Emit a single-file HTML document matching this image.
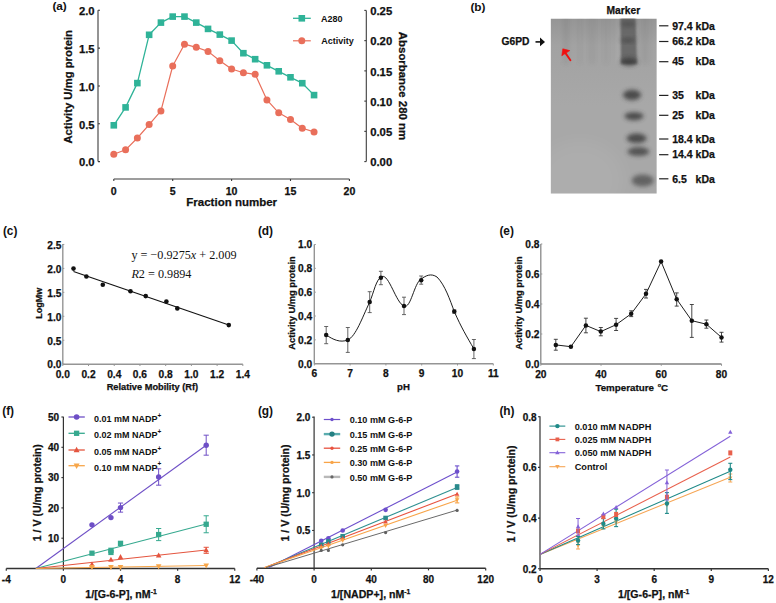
<!DOCTYPE html>
<html><head><meta charset="utf-8"><style>
html,body{margin:0;padding:0;background:#fff;width:776px;height:603px;overflow:hidden}
svg{display:block}
</style></head><body>
<svg width="776" height="603" viewBox="0 0 776 603">
<defs>
<linearGradient id="gelgrad" x1="0" y1="0" x2="0" y2="1">
<stop offset="0" stop-color="#959595"/><stop offset="0.15" stop-color="#a2a2a2"/><stop offset="0.5" stop-color="#a8a8a8"/><stop offset="1" stop-color="#a8a8a8"/>
</linearGradient>
<clipPath id="gelclip"><rect x="550.6" y="18.5" width="106.2" height="175.2"/></clipPath>
<filter id="blur2" x="-50%" y="-50%" width="200%" height="200%"><feGaussianBlur stdDeviation="2"/></filter>
<filter id="blur15" x="-50%" y="-50%" width="200%" height="200%"><feGaussianBlur stdDeviation="1.9"/></filter>
<filter id="blur8" x="-50%" y="-50%" width="200%" height="200%"><feGaussianBlur stdDeviation="8"/></filter>
<filter id="blur1" x="-50%" y="-50%" width="200%" height="200%"><feGaussianBlur stdDeviation="1.0"/></filter>
</defs>
<rect width="776" height="603" fill="#fff"/>
<text x="66.80" y="10.40" font-family="'Liberation Sans',sans-serif" font-weight="bold" font-size="11.8" text-anchor="end" fill="#111">(a)</text>
<line x1="98.00" y1="10.30" x2="98.00" y2="161.60" stroke="#3c3c3c" stroke-width="1.1"/>
<line x1="98.00" y1="161.60" x2="100.00" y2="161.60" stroke="#3c3c3c" stroke-width="1.1"/>
<text x="94.60" y="166.35" font-family="'Liberation Sans',sans-serif" font-weight="bold" font-size="11.3" text-anchor="end" fill="#111" stroke="#111" stroke-width="0.25">0.0</text>
<line x1="98.00" y1="123.77" x2="100.00" y2="123.77" stroke="#3c3c3c" stroke-width="1.1"/>
<text x="94.60" y="128.52" font-family="'Liberation Sans',sans-serif" font-weight="bold" font-size="11.3" text-anchor="end" fill="#111" stroke="#111" stroke-width="0.25">0.5</text>
<line x1="98.00" y1="85.95" x2="100.00" y2="85.95" stroke="#3c3c3c" stroke-width="1.1"/>
<text x="94.60" y="90.70" font-family="'Liberation Sans',sans-serif" font-weight="bold" font-size="11.3" text-anchor="end" fill="#111" stroke="#111" stroke-width="0.25">1.0</text>
<line x1="98.00" y1="48.12" x2="100.00" y2="48.12" stroke="#3c3c3c" stroke-width="1.1"/>
<text x="94.60" y="52.87" font-family="'Liberation Sans',sans-serif" font-weight="bold" font-size="11.3" text-anchor="end" fill="#111" stroke="#111" stroke-width="0.25">1.5</text>
<line x1="98.00" y1="10.30" x2="100.00" y2="10.30" stroke="#3c3c3c" stroke-width="1.1"/>
<text x="94.60" y="15.05" font-family="'Liberation Sans',sans-serif" font-weight="bold" font-size="11.3" text-anchor="end" fill="#111" stroke="#111" stroke-width="0.25">2.0</text>
<text x="72.30" y="86.80" font-family="'Liberation Sans',sans-serif" font-weight="bold" font-size="11.3" text-anchor="middle" fill="#111" stroke="#111" stroke-width="0.25" transform="rotate(-90 72.3 86.8)">Activity U/mg protein</text>
<line x1="113.80" y1="179.00" x2="349.40" y2="179.00" stroke="#3c3c3c" stroke-width="1.1"/>
<line x1="113.80" y1="179.00" x2="113.80" y2="181.00" stroke="#3c3c3c" stroke-width="1.1"/>
<text x="113.80" y="195.20" font-family="'Liberation Sans',sans-serif" font-weight="bold" font-size="10.6" text-anchor="middle" fill="#111" stroke="#111" stroke-width="0.25">0</text>
<line x1="172.70" y1="179.00" x2="172.70" y2="181.00" stroke="#3c3c3c" stroke-width="1.1"/>
<text x="172.70" y="195.20" font-family="'Liberation Sans',sans-serif" font-weight="bold" font-size="10.6" text-anchor="middle" fill="#111" stroke="#111" stroke-width="0.25">5</text>
<line x1="231.60" y1="179.00" x2="231.60" y2="181.00" stroke="#3c3c3c" stroke-width="1.1"/>
<text x="231.60" y="195.20" font-family="'Liberation Sans',sans-serif" font-weight="bold" font-size="10.6" text-anchor="middle" fill="#111" stroke="#111" stroke-width="0.25">10</text>
<line x1="290.50" y1="179.00" x2="290.50" y2="181.00" stroke="#3c3c3c" stroke-width="1.1"/>
<text x="290.50" y="195.20" font-family="'Liberation Sans',sans-serif" font-weight="bold" font-size="10.6" text-anchor="middle" fill="#111" stroke="#111" stroke-width="0.25">15</text>
<line x1="349.40" y1="179.00" x2="349.40" y2="181.00" stroke="#3c3c3c" stroke-width="1.1"/>
<text x="349.40" y="195.20" font-family="'Liberation Sans',sans-serif" font-weight="bold" font-size="10.6" text-anchor="middle" fill="#111" stroke="#111" stroke-width="0.25">20</text>
<text x="231.70" y="205.90" font-family="'Liberation Sans',sans-serif" font-weight="bold" font-size="11.5" text-anchor="middle" fill="#111" stroke="#111" stroke-width="0.25">Fraction number</text>
<line x1="366.30" y1="10.40" x2="366.30" y2="161.60" stroke="#3c3c3c" stroke-width="1.1"/>
<line x1="364.30" y1="161.60" x2="366.30" y2="161.60" stroke="#3c3c3c" stroke-width="1.1"/>
<text x="370.20" y="166.45" font-family="'Liberation Sans',sans-serif" font-weight="bold" font-size="11.3" text-anchor="start" fill="#111" stroke="#111" stroke-width="0.25">0.00</text>
<line x1="364.30" y1="131.36" x2="366.30" y2="131.36" stroke="#3c3c3c" stroke-width="1.1"/>
<text x="370.20" y="136.21" font-family="'Liberation Sans',sans-serif" font-weight="bold" font-size="11.3" text-anchor="start" fill="#111" stroke="#111" stroke-width="0.25">0.05</text>
<line x1="364.30" y1="101.12" x2="366.30" y2="101.12" stroke="#3c3c3c" stroke-width="1.1"/>
<text x="370.20" y="105.97" font-family="'Liberation Sans',sans-serif" font-weight="bold" font-size="11.3" text-anchor="start" fill="#111" stroke="#111" stroke-width="0.25">0.10</text>
<line x1="364.30" y1="70.88" x2="366.30" y2="70.88" stroke="#3c3c3c" stroke-width="1.1"/>
<text x="370.20" y="75.73" font-family="'Liberation Sans',sans-serif" font-weight="bold" font-size="11.3" text-anchor="start" fill="#111" stroke="#111" stroke-width="0.25">0.15</text>
<line x1="364.30" y1="40.64" x2="366.30" y2="40.64" stroke="#3c3c3c" stroke-width="1.1"/>
<text x="370.20" y="45.49" font-family="'Liberation Sans',sans-serif" font-weight="bold" font-size="11.3" text-anchor="start" fill="#111" stroke="#111" stroke-width="0.25">0.20</text>
<line x1="364.30" y1="10.40" x2="366.30" y2="10.40" stroke="#3c3c3c" stroke-width="1.1"/>
<text x="370.20" y="15.25" font-family="'Liberation Sans',sans-serif" font-weight="bold" font-size="11.3" text-anchor="start" fill="#111" stroke="#111" stroke-width="0.25">0.25</text>
<text x="399.40" y="86.00" font-family="'Liberation Sans',sans-serif" font-weight="bold" font-size="11.4" text-anchor="middle" fill="#111" stroke="#111" stroke-width="0.25" transform="rotate(90 399.4 86.0)">Absorbance 280 nm</text>
<polyline points="113.80,125.30 125.58,107.40 137.36,83.10 149.14,34.80 160.92,22.60 172.70,16.60 184.48,16.60 196.26,22.60 208.04,28.90 219.82,34.60 231.60,40.60 243.38,53.20 255.16,59.20 266.94,65.30 278.72,71.30 290.50,77.30 302.28,83.20 314.06,95.10" fill="none" stroke="#2fb398" stroke-width="1.3" stroke-linejoin="round"/>
<polyline points="113.80,154.20 125.58,149.80 137.36,138.00 149.14,124.60 160.92,110.90 172.70,66.00 184.48,44.20 196.26,47.30 208.04,51.40 219.82,60.80 231.60,69.00 243.38,72.70 255.16,74.30 266.94,99.90 278.72,112.80 290.50,119.40 302.28,128.30 314.06,131.90" fill="none" stroke="#e96f5b" stroke-width="1.2" stroke-linejoin="round"/>
<rect x="110.50" y="122.00" width="6.6" height="6.6" fill="#2fb398"/>
<rect x="122.28" y="104.10" width="6.6" height="6.6" fill="#2fb398"/>
<rect x="134.06" y="79.80" width="6.6" height="6.6" fill="#2fb398"/>
<rect x="145.84" y="31.50" width="6.6" height="6.6" fill="#2fb398"/>
<rect x="157.62" y="19.30" width="6.6" height="6.6" fill="#2fb398"/>
<rect x="169.40" y="13.30" width="6.6" height="6.6" fill="#2fb398"/>
<rect x="181.18" y="13.30" width="6.6" height="6.6" fill="#2fb398"/>
<rect x="192.96" y="19.30" width="6.6" height="6.6" fill="#2fb398"/>
<rect x="204.74" y="25.60" width="6.6" height="6.6" fill="#2fb398"/>
<rect x="216.52" y="31.30" width="6.6" height="6.6" fill="#2fb398"/>
<rect x="228.30" y="37.30" width="6.6" height="6.6" fill="#2fb398"/>
<rect x="240.08" y="49.90" width="6.6" height="6.6" fill="#2fb398"/>
<rect x="251.86" y="55.90" width="6.6" height="6.6" fill="#2fb398"/>
<rect x="263.64" y="62.00" width="6.6" height="6.6" fill="#2fb398"/>
<rect x="275.42" y="68.00" width="6.6" height="6.6" fill="#2fb398"/>
<rect x="287.20" y="74.00" width="6.6" height="6.6" fill="#2fb398"/>
<rect x="298.98" y="79.90" width="6.6" height="6.6" fill="#2fb398"/>
<rect x="310.76" y="91.80" width="6.6" height="6.6" fill="#2fb398"/>
<circle cx="113.80" cy="154.20" r="3.5" fill="#e96f5b"/>
<circle cx="125.58" cy="149.80" r="3.5" fill="#e96f5b"/>
<circle cx="137.36" cy="138.00" r="3.5" fill="#e96f5b"/>
<circle cx="149.14" cy="124.60" r="3.5" fill="#e96f5b"/>
<circle cx="160.92" cy="110.90" r="3.5" fill="#e96f5b"/>
<circle cx="172.70" cy="66.00" r="3.5" fill="#e96f5b"/>
<circle cx="184.48" cy="44.20" r="3.5" fill="#e96f5b"/>
<circle cx="196.26" cy="47.30" r="3.5" fill="#e96f5b"/>
<circle cx="208.04" cy="51.40" r="3.5" fill="#e96f5b"/>
<circle cx="219.82" cy="60.80" r="3.5" fill="#e96f5b"/>
<circle cx="231.60" cy="69.00" r="3.5" fill="#e96f5b"/>
<circle cx="243.38" cy="72.70" r="3.5" fill="#e96f5b"/>
<circle cx="255.16" cy="74.30" r="3.5" fill="#e96f5b"/>
<circle cx="266.94" cy="99.90" r="3.5" fill="#e96f5b"/>
<circle cx="278.72" cy="112.80" r="3.5" fill="#e96f5b"/>
<circle cx="290.50" cy="119.40" r="3.5" fill="#e96f5b"/>
<circle cx="302.28" cy="128.30" r="3.5" fill="#e96f5b"/>
<circle cx="314.06" cy="131.90" r="3.5" fill="#e96f5b"/>
<line x1="293.00" y1="18.30" x2="310.80" y2="18.30" stroke="#2fb398" stroke-width="1.3"/>
<rect x="298.50" y="15.00" width="6.6" height="6.6" fill="#2fb398"/>
<text x="321.10" y="21.70" font-family="'Liberation Sans',sans-serif" font-weight="bold" font-size="9" text-anchor="start" fill="#111">A280</text>
<line x1="293.00" y1="40.80" x2="310.80" y2="40.80" stroke="#e96f5b" stroke-width="1.2"/>
<circle cx="301.80" cy="40.80" r="3.5" fill="#e96f5b"/>
<text x="321.20" y="44.20" font-family="'Liberation Sans',sans-serif" font-weight="bold" font-size="9" text-anchor="start" fill="#111">Activity</text>
<text x="470.40" y="10.60" font-family="'Liberation Sans',sans-serif" font-weight="bold" font-size="11.8" text-anchor="start" fill="#111">(b)</text>
<text x="623.40" y="14.10" font-family="'Liberation Sans',sans-serif" font-weight="bold" font-size="10.25" text-anchor="middle" fill="#111" stroke="#111" stroke-width="0.25">Marker</text>
<text x="501.60" y="45.20" font-family="'Liberation Sans',sans-serif" font-weight="bold" font-size="10.25" text-anchor="start" fill="#111" stroke="#111" stroke-width="0.25">G6PD</text>
<path d="M535.5 41.9 H541" stroke="#111" stroke-width="1.6"/><polygon points="545,41.9 540,37.6 540,46.2" fill="#111"/>
<g clip-path="url(#gelclip)">
<rect x="550.6" y="18.5" width="106.2" height="175.2" fill="url(#gelgrad)"/>
<rect x="563.0" y="14" width="6" height="50" fill="#5a5a5a" opacity="0.1" filter="url(#blur2)"/>
<rect x="578.0" y="14" width="4" height="50" fill="#5a5a5a" opacity="0.05" filter="url(#blur2)"/>
<rect x="589.0" y="14" width="6" height="50" fill="#5a5a5a" opacity="0.07" filter="url(#blur2)"/>
<rect x="603.5" y="14" width="5" height="50" fill="#5a5a5a" opacity="0.05" filter="url(#blur2)"/>
<rect x="641.0" y="14" width="8" height="50" fill="#5a5a5a" opacity="0.08" filter="url(#blur2)"/>
<rect x="617" y="14" width="3" height="50" fill="#ffffff" opacity="0.10" filter="url(#blur15)"/>
<path d="M620.5 14 L635.5 14 L637 64 L621 64 Z" fill="#555555" opacity="0.72" filter="url(#blur1)"/>
<ellipse cx="628" cy="24" rx="7.5" ry="3.0" fill="#353535" opacity="0.35" filter="url(#blur15)"/>
<ellipse cx="628" cy="40.3" rx="7.5" ry="2.25" fill="#353535" opacity="0.5" filter="url(#blur15)"/>
<ellipse cx="629" cy="61.7" rx="8.5" ry="4.0" fill="#353535" opacity="0.75" filter="url(#blur15)"/>
<ellipse cx="632" cy="94.9" rx="9.0" ry="5.25" fill="#353535" opacity="0.8" filter="url(#blur15)"/>
<ellipse cx="634" cy="116.2" rx="9.5" ry="4.0" fill="#353535" opacity="0.8" filter="url(#blur15)"/>
<ellipse cx="636.6" cy="138.3" rx="10.0" ry="4.75" fill="#353535" opacity="0.8" filter="url(#blur15)"/>
<ellipse cx="638.4" cy="151.6" rx="11.0" ry="4.5" fill="#353535" opacity="0.72" filter="url(#blur15)"/>
<ellipse cx="642.7" cy="180.5" rx="11.0" ry="6.0" fill="#353535" opacity="0.6" filter="url(#blur15)"/>
<ellipse cx="580" cy="180" rx="45" ry="40" fill="#ffffff" opacity="0.06" filter="url(#blur8)"/>
</g>
<path d="M570.4 60.2 L565.2 52.6" stroke="#f01010" stroke-width="1.9" stroke-linecap="round"/><polygon points="562.8,48.8 569.8,50.6 561.8,55.8" fill="#f01010" stroke="#f01010" stroke-width="0.6" stroke-linejoin="round"/>
<line x1="659.10" y1="25.80" x2="668.40" y2="25.80" stroke="#222" stroke-width="1.2"/>
<text x="672.20" y="29.56" font-family="'Liberation Sans',sans-serif" font-weight="bold" font-size="10.5" text-anchor="start" fill="#111" stroke="#111" stroke-width="0.25">97.4</text>
<text x="695.60" y="29.56" font-family="'Liberation Sans',sans-serif" font-weight="bold" font-size="10.5" text-anchor="start" fill="#111" stroke="#111" stroke-width="0.25">kDa</text>
<line x1="659.10" y1="41.50" x2="668.40" y2="41.50" stroke="#222" stroke-width="1.2"/>
<text x="672.20" y="45.26" font-family="'Liberation Sans',sans-serif" font-weight="bold" font-size="10.5" text-anchor="start" fill="#111" stroke="#111" stroke-width="0.25">66.2</text>
<text x="695.60" y="45.26" font-family="'Liberation Sans',sans-serif" font-weight="bold" font-size="10.5" text-anchor="start" fill="#111" stroke="#111" stroke-width="0.25">kDa</text>
<line x1="659.10" y1="61.70" x2="668.40" y2="61.70" stroke="#222" stroke-width="1.2"/>
<text x="672.20" y="65.46" font-family="'Liberation Sans',sans-serif" font-weight="bold" font-size="10.5" text-anchor="start" fill="#111" stroke="#111" stroke-width="0.25">45</text>
<text x="695.60" y="65.46" font-family="'Liberation Sans',sans-serif" font-weight="bold" font-size="10.5" text-anchor="start" fill="#111" stroke="#111" stroke-width="0.25">kDa</text>
<line x1="659.10" y1="95.40" x2="668.40" y2="95.40" stroke="#222" stroke-width="1.2"/>
<text x="672.20" y="99.16" font-family="'Liberation Sans',sans-serif" font-weight="bold" font-size="10.5" text-anchor="start" fill="#111" stroke="#111" stroke-width="0.25">35</text>
<text x="695.60" y="99.16" font-family="'Liberation Sans',sans-serif" font-weight="bold" font-size="10.5" text-anchor="start" fill="#111" stroke="#111" stroke-width="0.25">kDa</text>
<line x1="659.10" y1="115.30" x2="668.40" y2="115.30" stroke="#222" stroke-width="1.2"/>
<text x="672.20" y="119.06" font-family="'Liberation Sans',sans-serif" font-weight="bold" font-size="10.5" text-anchor="start" fill="#111" stroke="#111" stroke-width="0.25">25</text>
<text x="695.60" y="119.06" font-family="'Liberation Sans',sans-serif" font-weight="bold" font-size="10.5" text-anchor="start" fill="#111" stroke="#111" stroke-width="0.25">kDa</text>
<line x1="659.10" y1="139.00" x2="668.40" y2="139.00" stroke="#222" stroke-width="1.2"/>
<text x="672.20" y="142.76" font-family="'Liberation Sans',sans-serif" font-weight="bold" font-size="10.5" text-anchor="start" fill="#111" stroke="#111" stroke-width="0.25">18.4</text>
<text x="695.60" y="142.76" font-family="'Liberation Sans',sans-serif" font-weight="bold" font-size="10.5" text-anchor="start" fill="#111" stroke="#111" stroke-width="0.25">kDa</text>
<line x1="659.10" y1="154.70" x2="668.40" y2="154.70" stroke="#222" stroke-width="1.2"/>
<text x="672.20" y="158.46" font-family="'Liberation Sans',sans-serif" font-weight="bold" font-size="10.5" text-anchor="start" fill="#111" stroke="#111" stroke-width="0.25">14.4</text>
<text x="695.60" y="158.46" font-family="'Liberation Sans',sans-serif" font-weight="bold" font-size="10.5" text-anchor="start" fill="#111" stroke="#111" stroke-width="0.25">kDa</text>
<line x1="659.10" y1="178.80" x2="668.40" y2="178.80" stroke="#222" stroke-width="1.2"/>
<text x="672.20" y="182.56" font-family="'Liberation Sans',sans-serif" font-weight="bold" font-size="10.5" text-anchor="start" fill="#111" stroke="#111" stroke-width="0.25">6.5</text>
<text x="695.60" y="182.56" font-family="'Liberation Sans',sans-serif" font-weight="bold" font-size="10.5" text-anchor="start" fill="#111" stroke="#111" stroke-width="0.25">kDa</text>
<text x="2.90" y="235.30" font-family="'Liberation Sans',sans-serif" font-weight="bold" font-size="11.9" text-anchor="start" fill="#111">(c)</text>
<line x1="62.80" y1="244.10" x2="62.80" y2="364.20" stroke="#959595" stroke-width="1.4"/>
<line x1="62.80" y1="364.20" x2="242.84" y2="364.20" stroke="#959595" stroke-width="1.4"/>
<line x1="62.80" y1="364.20" x2="64.30" y2="364.20" stroke="#959595" stroke-width="1"/>
<text x="61.50" y="368.45" font-family="'Liberation Sans',sans-serif" font-weight="bold" font-size="10.2" text-anchor="end" fill="#111" stroke="#111" stroke-width="0.25">0.0</text>
<line x1="62.80" y1="340.25" x2="64.30" y2="340.25" stroke="#959595" stroke-width="1"/>
<text x="61.50" y="344.50" font-family="'Liberation Sans',sans-serif" font-weight="bold" font-size="10.2" text-anchor="end" fill="#111" stroke="#111" stroke-width="0.25">0.5</text>
<line x1="62.80" y1="316.30" x2="64.30" y2="316.30" stroke="#959595" stroke-width="1"/>
<text x="61.50" y="320.55" font-family="'Liberation Sans',sans-serif" font-weight="bold" font-size="10.2" text-anchor="end" fill="#111" stroke="#111" stroke-width="0.25">1.0</text>
<line x1="62.80" y1="292.35" x2="64.30" y2="292.35" stroke="#959595" stroke-width="1"/>
<text x="61.50" y="296.60" font-family="'Liberation Sans',sans-serif" font-weight="bold" font-size="10.2" text-anchor="end" fill="#111" stroke="#111" stroke-width="0.25">1.5</text>
<line x1="62.80" y1="268.40" x2="64.30" y2="268.40" stroke="#959595" stroke-width="1"/>
<text x="61.50" y="272.65" font-family="'Liberation Sans',sans-serif" font-weight="bold" font-size="10.2" text-anchor="end" fill="#111" stroke="#111" stroke-width="0.25">2.0</text>
<line x1="62.80" y1="244.45" x2="64.30" y2="244.45" stroke="#959595" stroke-width="1"/>
<text x="61.50" y="248.70" font-family="'Liberation Sans',sans-serif" font-weight="bold" font-size="10.2" text-anchor="end" fill="#111" stroke="#111" stroke-width="0.25">2.5</text>
<line x1="62.80" y1="364.20" x2="62.80" y2="366.00" stroke="#959595" stroke-width="1"/>
<text x="62.80" y="377.60" font-family="'Liberation Sans',sans-serif" font-weight="bold" font-size="10.2" text-anchor="middle" fill="#111" stroke="#111" stroke-width="0.25">0.0</text>
<line x1="88.52" y1="364.20" x2="88.52" y2="366.00" stroke="#959595" stroke-width="1"/>
<text x="88.52" y="377.60" font-family="'Liberation Sans',sans-serif" font-weight="bold" font-size="10.2" text-anchor="middle" fill="#111" stroke="#111" stroke-width="0.25">0.2</text>
<line x1="114.24" y1="364.20" x2="114.24" y2="366.00" stroke="#959595" stroke-width="1"/>
<text x="114.24" y="377.60" font-family="'Liberation Sans',sans-serif" font-weight="bold" font-size="10.2" text-anchor="middle" fill="#111" stroke="#111" stroke-width="0.25">0.4</text>
<line x1="139.96" y1="364.20" x2="139.96" y2="366.00" stroke="#959595" stroke-width="1"/>
<text x="139.96" y="377.60" font-family="'Liberation Sans',sans-serif" font-weight="bold" font-size="10.2" text-anchor="middle" fill="#111" stroke="#111" stroke-width="0.25">0.6</text>
<line x1="165.68" y1="364.20" x2="165.68" y2="366.00" stroke="#959595" stroke-width="1"/>
<text x="165.68" y="377.60" font-family="'Liberation Sans',sans-serif" font-weight="bold" font-size="10.2" text-anchor="middle" fill="#111" stroke="#111" stroke-width="0.25">0.8</text>
<line x1="191.40" y1="364.20" x2="191.40" y2="366.00" stroke="#959595" stroke-width="1"/>
<text x="191.40" y="377.60" font-family="'Liberation Sans',sans-serif" font-weight="bold" font-size="10.2" text-anchor="middle" fill="#111" stroke="#111" stroke-width="0.25">1.0</text>
<line x1="217.12" y1="364.20" x2="217.12" y2="366.00" stroke="#959595" stroke-width="1"/>
<text x="217.12" y="377.60" font-family="'Liberation Sans',sans-serif" font-weight="bold" font-size="10.2" text-anchor="middle" fill="#111" stroke="#111" stroke-width="0.25">1.2</text>
<line x1="242.84" y1="364.20" x2="242.84" y2="366.00" stroke="#959595" stroke-width="1"/>
<text x="242.84" y="377.60" font-family="'Liberation Sans',sans-serif" font-weight="bold" font-size="10.2" text-anchor="middle" fill="#111" stroke="#111" stroke-width="0.25">1.4</text>
<text x="42.30" y="303.20" font-family="'Liberation Sans',sans-serif" font-weight="bold" font-size="9" text-anchor="middle" fill="#111" stroke="#111" stroke-width="0.25" transform="rotate(-90 42.3 303.2)">LogMw</text>
<text x="152.40" y="389.90" font-family="'Liberation Sans',sans-serif" font-weight="bold" font-size="9.25" text-anchor="middle" fill="#111" stroke="#111" stroke-width="0.25">Relative Mobility (Rf)</text>
<line x1="73.50" y1="271.60" x2="228.80" y2="325.10" stroke="#111" stroke-width="1.1"/>
<circle cx="73.50" cy="268.60" r="2.3" fill="#111"/>
<circle cx="86.40" cy="276.50" r="2.3" fill="#111"/>
<circle cx="102.80" cy="284.70" r="2.3" fill="#111"/>
<circle cx="130.50" cy="291.20" r="2.3" fill="#111"/>
<circle cx="145.70" cy="296.10" r="2.3" fill="#111"/>
<circle cx="166.40" cy="301.60" r="2.3" fill="#111"/>
<circle cx="177.30" cy="308.40" r="2.3" fill="#111"/>
<circle cx="228.80" cy="325.10" r="2.3" fill="#111"/>
<text x="131.40" y="258.80" font-family="'Liberation Serif',serif" font-weight="normal" font-size="12.2" text-anchor="start" fill="#111">y = −0.9275<tspan font-style="italic">x</tspan> + 2.009</text>
<text x="131.40" y="277.70" font-family="'Liberation Serif',serif" font-weight="normal" font-size="12.2" text-anchor="start" fill="#111"><tspan font-style="italic">R</tspan>2 = 0.9894</text>
<text x="257.90" y="235.30" font-family="'Liberation Sans',sans-serif" font-weight="bold" font-size="11.9" text-anchor="start" fill="#111">(d)</text>
<line x1="314.30" y1="244.50" x2="314.30" y2="363.70" stroke="#959595" stroke-width="1.4"/>
<line x1="314.30" y1="363.70" x2="493.30" y2="363.70" stroke="#959595" stroke-width="1.4"/>
<line x1="314.30" y1="363.70" x2="315.80" y2="363.70" stroke="#959595" stroke-width="1"/>
<text x="312.20" y="367.55" font-family="'Liberation Sans',sans-serif" font-weight="bold" font-size="10.2" text-anchor="end" fill="#111" stroke="#111" stroke-width="0.25">0.0</text>
<line x1="314.30" y1="339.86" x2="315.80" y2="339.86" stroke="#959595" stroke-width="1"/>
<text x="312.20" y="343.71" font-family="'Liberation Sans',sans-serif" font-weight="bold" font-size="10.2" text-anchor="end" fill="#111" stroke="#111" stroke-width="0.25">0.2</text>
<line x1="314.30" y1="316.02" x2="315.80" y2="316.02" stroke="#959595" stroke-width="1"/>
<text x="312.20" y="319.87" font-family="'Liberation Sans',sans-serif" font-weight="bold" font-size="10.2" text-anchor="end" fill="#111" stroke="#111" stroke-width="0.25">0.4</text>
<line x1="314.30" y1="292.18" x2="315.80" y2="292.18" stroke="#959595" stroke-width="1"/>
<text x="312.20" y="296.03" font-family="'Liberation Sans',sans-serif" font-weight="bold" font-size="10.2" text-anchor="end" fill="#111" stroke="#111" stroke-width="0.25">0.6</text>
<line x1="314.30" y1="268.34" x2="315.80" y2="268.34" stroke="#959595" stroke-width="1"/>
<text x="312.20" y="272.19" font-family="'Liberation Sans',sans-serif" font-weight="bold" font-size="10.2" text-anchor="end" fill="#111" stroke="#111" stroke-width="0.25">0.8</text>
<line x1="314.30" y1="244.50" x2="315.80" y2="244.50" stroke="#959595" stroke-width="1"/>
<text x="312.20" y="248.35" font-family="'Liberation Sans',sans-serif" font-weight="bold" font-size="10.2" text-anchor="end" fill="#111" stroke="#111" stroke-width="0.25">1.0</text>
<line x1="314.30" y1="363.70" x2="314.30" y2="365.50" stroke="#959595" stroke-width="1"/>
<text x="314.30" y="377.40" font-family="'Liberation Sans',sans-serif" font-weight="bold" font-size="10.2" text-anchor="middle" fill="#111" stroke="#111" stroke-width="0.25">6</text>
<line x1="350.10" y1="363.70" x2="350.10" y2="365.50" stroke="#959595" stroke-width="1"/>
<text x="350.10" y="377.40" font-family="'Liberation Sans',sans-serif" font-weight="bold" font-size="10.2" text-anchor="middle" fill="#111" stroke="#111" stroke-width="0.25">7</text>
<line x1="385.90" y1="363.70" x2="385.90" y2="365.50" stroke="#959595" stroke-width="1"/>
<text x="385.90" y="377.40" font-family="'Liberation Sans',sans-serif" font-weight="bold" font-size="10.2" text-anchor="middle" fill="#111" stroke="#111" stroke-width="0.25">8</text>
<line x1="421.70" y1="363.70" x2="421.70" y2="365.50" stroke="#959595" stroke-width="1"/>
<text x="421.70" y="377.40" font-family="'Liberation Sans',sans-serif" font-weight="bold" font-size="10.2" text-anchor="middle" fill="#111" stroke="#111" stroke-width="0.25">9</text>
<line x1="457.50" y1="363.70" x2="457.50" y2="365.50" stroke="#959595" stroke-width="1"/>
<text x="457.50" y="377.40" font-family="'Liberation Sans',sans-serif" font-weight="bold" font-size="10.2" text-anchor="middle" fill="#111" stroke="#111" stroke-width="0.25">10</text>
<line x1="493.30" y1="363.70" x2="493.30" y2="365.50" stroke="#959595" stroke-width="1"/>
<text x="493.30" y="377.40" font-family="'Liberation Sans',sans-serif" font-weight="bold" font-size="10.2" text-anchor="middle" fill="#111" stroke="#111" stroke-width="0.25">11</text>
<text x="295.00" y="303.00" font-family="'Liberation Sans',sans-serif" font-weight="bold" font-size="9.3" text-anchor="middle" fill="#111" stroke="#111" stroke-width="0.25" transform="rotate(-90 295.0 303.0)">Activity U/mg protein</text>
<text x="403.50" y="390.20" font-family="'Liberation Sans',sans-serif" font-weight="bold" font-size="9.6" text-anchor="middle" fill="#111" stroke="#111" stroke-width="0.25">pH</text>
<path d="M326.2 335 C 333 339.5, 340 343, 347.8 340 C 356 336, 362 318, 369.7 302.1 C 374 292, 376 279, 382 276.5 C 389 274, 396 303, 404 306.1 C 411 309, 414 283, 421.2 279 C 426 275.5, 431 273, 437 277 C 445 285, 450 300, 454.3 311.6 C 461 327, 467 337, 473.9 348.9" fill="none" stroke="#111" stroke-width="0.95"/>
<line x1="326.20" y1="326.50" x2="326.20" y2="343.70" stroke="#555" stroke-width="0.9"/>
<line x1="324.20" y1="326.50" x2="328.20" y2="326.50" stroke="#555" stroke-width="0.9"/>
<line x1="324.20" y1="343.70" x2="328.20" y2="343.70" stroke="#555" stroke-width="0.9"/>
<circle cx="326.20" cy="335.00" r="2.25" fill="#111"/>
<line x1="347.80" y1="327.50" x2="347.80" y2="352.40" stroke="#555" stroke-width="0.9"/>
<line x1="345.80" y1="327.50" x2="349.80" y2="327.50" stroke="#555" stroke-width="0.9"/>
<line x1="345.80" y1="352.40" x2="349.80" y2="352.40" stroke="#555" stroke-width="0.9"/>
<circle cx="347.80" cy="340.00" r="2.25" fill="#111"/>
<line x1="369.70" y1="291.70" x2="369.70" y2="312.60" stroke="#555" stroke-width="0.9"/>
<line x1="367.70" y1="291.70" x2="371.70" y2="291.70" stroke="#555" stroke-width="0.9"/>
<line x1="367.70" y1="312.60" x2="371.70" y2="312.60" stroke="#555" stroke-width="0.9"/>
<circle cx="369.70" cy="302.10" r="2.25" fill="#111"/>
<line x1="380.90" y1="271.30" x2="380.90" y2="284.70" stroke="#555" stroke-width="0.9"/>
<line x1="378.90" y1="271.30" x2="382.90" y2="271.30" stroke="#555" stroke-width="0.9"/>
<line x1="378.90" y1="284.70" x2="382.90" y2="284.70" stroke="#555" stroke-width="0.9"/>
<circle cx="380.90" cy="277.80" r="2.25" fill="#111"/>
<line x1="404.00" y1="297.20" x2="404.00" y2="314.60" stroke="#555" stroke-width="0.9"/>
<line x1="402.00" y1="297.20" x2="406.00" y2="297.20" stroke="#555" stroke-width="0.9"/>
<line x1="402.00" y1="314.60" x2="406.00" y2="314.60" stroke="#555" stroke-width="0.9"/>
<circle cx="404.00" cy="306.10" r="2.25" fill="#111"/>
<line x1="421.20" y1="276.00" x2="421.20" y2="284.20" stroke="#555" stroke-width="0.9"/>
<line x1="419.20" y1="276.00" x2="423.20" y2="276.00" stroke="#555" stroke-width="0.9"/>
<line x1="419.20" y1="284.20" x2="423.20" y2="284.20" stroke="#555" stroke-width="0.9"/>
<circle cx="421.20" cy="280.20" r="2.25" fill="#111"/>
<line x1="454.30" y1="310.00" x2="454.30" y2="313.20" stroke="#555" stroke-width="0.9"/>
<line x1="452.30" y1="310.00" x2="456.30" y2="310.00" stroke="#555" stroke-width="0.9"/>
<line x1="452.30" y1="313.20" x2="456.30" y2="313.20" stroke="#555" stroke-width="0.9"/>
<circle cx="454.30" cy="311.60" r="2.25" fill="#111"/>
<line x1="473.90" y1="339.50" x2="473.90" y2="358.60" stroke="#555" stroke-width="0.9"/>
<line x1="471.90" y1="339.50" x2="475.90" y2="339.50" stroke="#555" stroke-width="0.9"/>
<line x1="471.90" y1="358.60" x2="475.90" y2="358.60" stroke="#555" stroke-width="0.9"/>
<circle cx="473.90" cy="348.90" r="2.25" fill="#111"/>
<text x="499.40" y="235.30" font-family="'Liberation Sans',sans-serif" font-weight="bold" font-size="11.9" text-anchor="start" fill="#111">(e)</text>
<line x1="540.80" y1="244.00" x2="540.80" y2="364.00" stroke="#888" stroke-width="1.3"/>
<line x1="540.80" y1="364.00" x2="721.52" y2="364.00" stroke="#808080" stroke-width="1.3"/>
<line x1="540.80" y1="364.00" x2="542.30" y2="364.00" stroke="#959595" stroke-width="1"/>
<text x="539.40" y="367.85" font-family="'Liberation Sans',sans-serif" font-weight="bold" font-size="10.2" text-anchor="end" fill="#111" stroke="#111" stroke-width="0.25">0.0</text>
<line x1="540.80" y1="334.00" x2="542.30" y2="334.00" stroke="#959595" stroke-width="1"/>
<text x="539.40" y="337.85" font-family="'Liberation Sans',sans-serif" font-weight="bold" font-size="10.2" text-anchor="end" fill="#111" stroke="#111" stroke-width="0.25">0.2</text>
<line x1="540.80" y1="304.00" x2="542.30" y2="304.00" stroke="#959595" stroke-width="1"/>
<text x="539.40" y="307.85" font-family="'Liberation Sans',sans-serif" font-weight="bold" font-size="10.2" text-anchor="end" fill="#111" stroke="#111" stroke-width="0.25">0.4</text>
<line x1="540.80" y1="274.00" x2="542.30" y2="274.00" stroke="#959595" stroke-width="1"/>
<text x="539.40" y="277.85" font-family="'Liberation Sans',sans-serif" font-weight="bold" font-size="10.2" text-anchor="end" fill="#111" stroke="#111" stroke-width="0.25">0.6</text>
<line x1="540.80" y1="244.00" x2="542.30" y2="244.00" stroke="#959595" stroke-width="1"/>
<text x="539.40" y="247.85" font-family="'Liberation Sans',sans-serif" font-weight="bold" font-size="10.2" text-anchor="end" fill="#111" stroke="#111" stroke-width="0.25">0.8</text>
<line x1="540.80" y1="364.00" x2="540.80" y2="365.80" stroke="#959595" stroke-width="1"/>
<text x="540.80" y="377.60" font-family="'Liberation Sans',sans-serif" font-weight="bold" font-size="10.2" text-anchor="middle" fill="#111" stroke="#111" stroke-width="0.25">20</text>
<line x1="601.04" y1="364.00" x2="601.04" y2="365.80" stroke="#959595" stroke-width="1"/>
<text x="601.04" y="377.60" font-family="'Liberation Sans',sans-serif" font-weight="bold" font-size="10.2" text-anchor="middle" fill="#111" stroke="#111" stroke-width="0.25">40</text>
<line x1="661.28" y1="364.00" x2="661.28" y2="365.80" stroke="#959595" stroke-width="1"/>
<text x="661.28" y="377.60" font-family="'Liberation Sans',sans-serif" font-weight="bold" font-size="10.2" text-anchor="middle" fill="#111" stroke="#111" stroke-width="0.25">60</text>
<line x1="721.52" y1="364.00" x2="721.52" y2="365.80" stroke="#959595" stroke-width="1"/>
<text x="721.52" y="377.60" font-family="'Liberation Sans',sans-serif" font-weight="bold" font-size="10.2" text-anchor="middle" fill="#111" stroke="#111" stroke-width="0.25">80</text>
<text x="521.50" y="303.00" font-family="'Liberation Sans',sans-serif" font-weight="bold" font-size="9.3" text-anchor="middle" fill="#111" stroke="#111" stroke-width="0.25" transform="rotate(-90 521.5 303.0)">Activity U/mg protein</text>
<text x="595.40" y="391.30" font-family="'Liberation Sans',sans-serif" font-weight="bold" font-size="9.8" text-anchor="start" fill="#111" stroke="#111" stroke-width="0.25">Temperature</text>
<text x="657.80" y="387.00" font-family="'Liberation Sans',sans-serif" font-weight="bold" font-size="5.5" text-anchor="start" fill="#111" stroke="#111" stroke-width="0.25">o</text>
<text x="661.00" y="391.30" font-family="'Liberation Sans',sans-serif" font-weight="bold" font-size="9.8" text-anchor="start" fill="#111" stroke="#111" stroke-width="0.25">C</text>
<polyline points="555.80,344.90 570.90,346.70 585.90,325.40 600.80,331.60 616.10,324.70 631.20,313.80 646.00,293.80 661.10,261.60 676.70,299.20 691.80,320.70 706.40,324.20 721.50,337.40" fill="none" stroke="#111" stroke-width="0.95" stroke-linejoin="round"/>
<line x1="555.80" y1="339.30" x2="555.80" y2="350.20" stroke="#333" stroke-width="0.9"/>
<line x1="553.80" y1="339.30" x2="557.80" y2="339.30" stroke="#333" stroke-width="0.9"/>
<line x1="553.80" y1="350.20" x2="557.80" y2="350.20" stroke="#333" stroke-width="0.9"/>
<circle cx="555.80" cy="344.90" r="2.25" fill="#111"/>
<circle cx="570.90" cy="346.70" r="2.25" fill="#111"/>
<line x1="585.90" y1="318.20" x2="585.90" y2="332.80" stroke="#333" stroke-width="0.9"/>
<line x1="583.90" y1="318.20" x2="587.90" y2="318.20" stroke="#333" stroke-width="0.9"/>
<line x1="583.90" y1="332.80" x2="587.90" y2="332.80" stroke="#333" stroke-width="0.9"/>
<circle cx="585.90" cy="325.40" r="2.25" fill="#111"/>
<line x1="600.80" y1="327.50" x2="600.80" y2="335.80" stroke="#333" stroke-width="0.9"/>
<line x1="598.80" y1="327.50" x2="602.80" y2="327.50" stroke="#333" stroke-width="0.9"/>
<line x1="598.80" y1="335.80" x2="602.80" y2="335.80" stroke="#333" stroke-width="0.9"/>
<circle cx="600.80" cy="331.60" r="2.25" fill="#111"/>
<line x1="616.10" y1="318.40" x2="616.10" y2="330.50" stroke="#333" stroke-width="0.9"/>
<line x1="614.10" y1="318.40" x2="618.10" y2="318.40" stroke="#333" stroke-width="0.9"/>
<line x1="614.10" y1="330.50" x2="618.10" y2="330.50" stroke="#333" stroke-width="0.9"/>
<circle cx="616.10" cy="324.70" r="2.25" fill="#111"/>
<line x1="631.20" y1="310.80" x2="631.20" y2="316.60" stroke="#333" stroke-width="0.9"/>
<line x1="629.20" y1="310.80" x2="633.20" y2="310.80" stroke="#333" stroke-width="0.9"/>
<line x1="629.20" y1="316.60" x2="633.20" y2="316.60" stroke="#333" stroke-width="0.9"/>
<circle cx="631.20" cy="313.80" r="2.25" fill="#111"/>
<line x1="646.00" y1="289.40" x2="646.00" y2="298.00" stroke="#333" stroke-width="0.9"/>
<line x1="644.00" y1="289.40" x2="648.00" y2="289.40" stroke="#333" stroke-width="0.9"/>
<line x1="644.00" y1="298.00" x2="648.00" y2="298.00" stroke="#333" stroke-width="0.9"/>
<circle cx="646.00" cy="293.80" r="2.25" fill="#111"/>
<circle cx="661.10" cy="261.60" r="2.25" fill="#111"/>
<line x1="676.70" y1="292.90" x2="676.70" y2="306.10" stroke="#333" stroke-width="0.9"/>
<line x1="674.70" y1="292.90" x2="678.70" y2="292.90" stroke="#333" stroke-width="0.9"/>
<line x1="674.70" y1="306.10" x2="678.70" y2="306.10" stroke="#333" stroke-width="0.9"/>
<circle cx="676.70" cy="299.20" r="2.25" fill="#111"/>
<line x1="691.80" y1="304.50" x2="691.80" y2="337.40" stroke="#333" stroke-width="0.9"/>
<line x1="689.80" y1="304.50" x2="693.80" y2="304.50" stroke="#333" stroke-width="0.9"/>
<line x1="689.80" y1="337.40" x2="693.80" y2="337.40" stroke="#333" stroke-width="0.9"/>
<circle cx="691.80" cy="320.70" r="2.25" fill="#111"/>
<line x1="706.40" y1="320.00" x2="706.40" y2="328.20" stroke="#333" stroke-width="0.9"/>
<line x1="704.40" y1="320.00" x2="708.40" y2="320.00" stroke="#333" stroke-width="0.9"/>
<line x1="704.40" y1="328.20" x2="708.40" y2="328.20" stroke="#333" stroke-width="0.9"/>
<circle cx="706.40" cy="324.20" r="2.25" fill="#111"/>
<line x1="721.50" y1="332.30" x2="721.50" y2="342.10" stroke="#333" stroke-width="0.9"/>
<line x1="719.50" y1="332.30" x2="723.50" y2="332.30" stroke="#333" stroke-width="0.9"/>
<line x1="719.50" y1="342.10" x2="723.50" y2="342.10" stroke="#333" stroke-width="0.9"/>
<circle cx="721.50" cy="337.40" r="2.25" fill="#111"/>
<text x="2.20" y="414.90" font-family="'Liberation Sans',sans-serif" font-weight="bold" font-size="11.9" text-anchor="start" fill="#111">(f)</text>
<line x1="63.40" y1="416.80" x2="63.40" y2="568.50" stroke="#333" stroke-width="1.2"/>
<line x1="6.28" y1="568.50" x2="234.76" y2="568.50" stroke="#333" stroke-width="1.4"/>
<line x1="61.40" y1="538.20" x2="63.40" y2="538.20" stroke="#333" stroke-width="1.1"/>
<text x="59.20" y="542.08" font-family="'Liberation Sans',sans-serif" font-weight="bold" font-size="10" text-anchor="end" fill="#111" stroke="#111" stroke-width="0.25">10</text>
<line x1="61.40" y1="507.90" x2="63.40" y2="507.90" stroke="#333" stroke-width="1.1"/>
<text x="59.20" y="511.78" font-family="'Liberation Sans',sans-serif" font-weight="bold" font-size="10" text-anchor="end" fill="#111" stroke="#111" stroke-width="0.25">20</text>
<line x1="61.40" y1="477.60" x2="63.40" y2="477.60" stroke="#333" stroke-width="1.1"/>
<text x="59.20" y="481.48" font-family="'Liberation Sans',sans-serif" font-weight="bold" font-size="10" text-anchor="end" fill="#111" stroke="#111" stroke-width="0.25">30</text>
<line x1="61.40" y1="447.30" x2="63.40" y2="447.30" stroke="#333" stroke-width="1.1"/>
<text x="59.20" y="451.18" font-family="'Liberation Sans',sans-serif" font-weight="bold" font-size="10" text-anchor="end" fill="#111" stroke="#111" stroke-width="0.25">40</text>
<line x1="61.40" y1="417.00" x2="63.40" y2="417.00" stroke="#333" stroke-width="1.1"/>
<text x="59.20" y="420.88" font-family="'Liberation Sans',sans-serif" font-weight="bold" font-size="10" text-anchor="end" fill="#111" stroke="#111" stroke-width="0.25">50</text>
<line x1="6.28" y1="568.50" x2="6.28" y2="570.70" stroke="#333" stroke-width="1.2"/>
<text x="6.28" y="582.90" font-family="'Liberation Sans',sans-serif" font-weight="bold" font-size="10" text-anchor="middle" fill="#111" stroke="#111" stroke-width="0.25">-4</text>
<line x1="63.40" y1="568.50" x2="63.40" y2="570.70" stroke="#333" stroke-width="1.2"/>
<text x="63.40" y="582.90" font-family="'Liberation Sans',sans-serif" font-weight="bold" font-size="10" text-anchor="middle" fill="#111" stroke="#111" stroke-width="0.25">0</text>
<line x1="120.52" y1="568.50" x2="120.52" y2="570.70" stroke="#333" stroke-width="1.2"/>
<text x="120.52" y="582.90" font-family="'Liberation Sans',sans-serif" font-weight="bold" font-size="10" text-anchor="middle" fill="#111" stroke="#111" stroke-width="0.25">4</text>
<line x1="177.64" y1="568.50" x2="177.64" y2="570.70" stroke="#333" stroke-width="1.2"/>
<text x="177.64" y="582.90" font-family="'Liberation Sans',sans-serif" font-weight="bold" font-size="10" text-anchor="middle" fill="#111" stroke="#111" stroke-width="0.25">8</text>
<line x1="234.76" y1="568.50" x2="234.76" y2="570.70" stroke="#333" stroke-width="1.2"/>
<text x="234.76" y="582.90" font-family="'Liberation Sans',sans-serif" font-weight="bold" font-size="10" text-anchor="middle" fill="#111" stroke="#111" stroke-width="0.25">12</text>
<text x="40.70" y="492.70" font-family="'Liberation Sans',sans-serif" font-weight="bold" font-size="10.6" text-anchor="middle" fill="#111" stroke="#111" stroke-width="0.25" transform="rotate(-90 40.7 492.7)">1 / V (U/mg protein)</text>
<text x="121.00" y="598.40" font-family="'Liberation Sans',sans-serif" font-weight="bold" font-size="10.6" text-anchor="middle" fill="#111" stroke="#111" stroke-width="0.25">1/[G-6-P], nM<tspan font-size="6.8" dy="-4">-1</tspan></text>
<line x1="35.84" y1="568.50" x2="206.20" y2="445.18" stroke="#6e4fc6" stroke-width="1.1"/>
<line x1="35.84" y1="568.50" x2="206.20" y2="523.96" stroke="#36a98f" stroke-width="1.1"/>
<line x1="35.84" y1="568.50" x2="206.20" y2="550.02" stroke="#e4553f" stroke-width="1.1"/>
<line x1="35.84" y1="568.50" x2="206.20" y2="565.47" stroke="#f7a64a" stroke-width="1.1"/>
<circle cx="91.96" cy="524.87" r="2.7" fill="#6e4fc6"/>
<circle cx="110.95" cy="517.60" r="2.7" fill="#6e4fc6"/>
<line x1="120.52" y1="503.05" x2="120.52" y2="512.14" stroke="#6e4fc6" stroke-width="1.0"/>
<line x1="117.92" y1="503.05" x2="123.12" y2="503.05" stroke="#6e4fc6" stroke-width="1.0"/>
<line x1="117.92" y1="512.14" x2="123.12" y2="512.14" stroke="#6e4fc6" stroke-width="1.0"/>
<circle cx="120.52" cy="507.60" r="2.7" fill="#6e4fc6"/>
<line x1="158.65" y1="468.81" x2="158.65" y2="485.18" stroke="#6e4fc6" stroke-width="1.0"/>
<line x1="156.05" y1="468.81" x2="161.25" y2="468.81" stroke="#6e4fc6" stroke-width="1.0"/>
<line x1="156.05" y1="485.18" x2="161.25" y2="485.18" stroke="#6e4fc6" stroke-width="1.0"/>
<circle cx="158.65" cy="476.99" r="2.7" fill="#6e4fc6"/>
<line x1="206.20" y1="435.18" x2="206.20" y2="455.18" stroke="#6e4fc6" stroke-width="1.0"/>
<line x1="203.60" y1="435.18" x2="208.80" y2="435.18" stroke="#6e4fc6" stroke-width="1.0"/>
<line x1="203.60" y1="455.18" x2="208.80" y2="455.18" stroke="#6e4fc6" stroke-width="1.0"/>
<circle cx="206.20" cy="445.18" r="2.7" fill="#6e4fc6"/>
<rect x="89.31" y="550.55" width="5.3" height="5.3" fill="#36a98f"/>
<rect x="108.30" y="547.67" width="5.3" height="5.3" fill="#36a98f"/>
<rect x="117.87" y="540.70" width="5.3" height="5.3" fill="#36a98f"/>
<line x1="158.65" y1="528.50" x2="158.65" y2="540.62" stroke="#36a98f" stroke-width="1.0"/>
<line x1="156.05" y1="528.50" x2="161.25" y2="528.50" stroke="#36a98f" stroke-width="1.0"/>
<line x1="156.05" y1="540.62" x2="161.25" y2="540.62" stroke="#36a98f" stroke-width="1.0"/>
<rect x="156.00" y="531.91" width="5.3" height="5.3" fill="#36a98f"/>
<line x1="206.20" y1="515.78" x2="206.20" y2="532.75" stroke="#36a98f" stroke-width="1.0"/>
<line x1="203.60" y1="515.78" x2="208.80" y2="515.78" stroke="#36a98f" stroke-width="1.0"/>
<line x1="203.60" y1="532.75" x2="208.80" y2="532.75" stroke="#36a98f" stroke-width="1.0"/>
<rect x="203.55" y="521.61" width="5.3" height="5.3" fill="#36a98f"/>
<rect x="108.30" y="549.79" width="5.3" height="5.3" fill="#36a98f"/>
<polygon points="91.96,561.54 89.16,566.58 94.76,566.58" fill="#e4553f"/>
<polygon points="110.95,556.69 108.15,561.73 113.75,561.73" fill="#e4553f"/>
<polygon points="120.52,554.11 117.72,559.15 123.32,559.15" fill="#e4553f"/>
<polygon points="158.65,552.45 155.85,557.49 161.45,557.49" fill="#e4553f"/>
<line x1="206.20" y1="547.29" x2="206.20" y2="553.35" stroke="#e4553f" stroke-width="1.0"/>
<line x1="203.60" y1="547.29" x2="208.80" y2="547.29" stroke="#e4553f" stroke-width="1.0"/>
<line x1="203.60" y1="553.35" x2="208.80" y2="553.35" stroke="#e4553f" stroke-width="1.0"/>
<polygon points="206.20,547.30 203.40,552.34 209.00,552.34" fill="#e4553f"/>
<polygon points="91.96,570.01 89.16,564.97 94.76,564.97" fill="#f7a64a"/>
<polygon points="110.95,570.01 108.15,564.97 113.75,564.97" fill="#f7a64a"/>
<polygon points="120.52,570.01 117.72,564.97 123.32,564.97" fill="#f7a64a"/>
<polygon points="158.65,569.40 155.85,564.36 161.45,564.36" fill="#f7a64a"/>
<polygon points="206.20,568.49 203.40,563.45 209.00,563.45" fill="#f7a64a"/>
<line x1="68.50" y1="417.00" x2="84.80" y2="417.00" stroke="#6e4fc6" stroke-width="1.3"/>
<circle cx="76.60" cy="417.00" r="2.8" fill="#6e4fc6"/>
<text x="94.00" y="421.90" font-family="'Liberation Sans',sans-serif" font-weight="bold" font-size="9.0" text-anchor="start" fill="#111">0.01 mM NADP<tspan font-size="6.5" dy="-4.2">+</tspan></text>
<line x1="68.50" y1="433.30" x2="84.80" y2="433.30" stroke="#36a98f" stroke-width="1.3"/>
<rect x="73.95" y="430.65" width="5.3" height="5.3" fill="#36a98f"/>
<text x="94.00" y="438.20" font-family="'Liberation Sans',sans-serif" font-weight="bold" font-size="9.0" text-anchor="start" fill="#111">0.02 mM NADP<tspan font-size="6.5" dy="-4.2">+</tspan></text>
<line x1="68.50" y1="450.00" x2="84.80" y2="450.00" stroke="#e4553f" stroke-width="1.3"/>
<polygon points="76.60,446.76 73.60,452.16 79.60,452.16" fill="#e4553f"/>
<text x="94.00" y="454.90" font-family="'Liberation Sans',sans-serif" font-weight="bold" font-size="9.0" text-anchor="start" fill="#111">0.05 mM NADP<tspan font-size="6.5" dy="-4.2">+</tspan></text>
<line x1="68.50" y1="465.70" x2="84.80" y2="465.70" stroke="#f7a64a" stroke-width="1.3"/>
<polygon points="76.60,468.94 73.60,463.54 79.60,463.54" fill="#f7a64a"/>
<text x="94.00" y="470.60" font-family="'Liberation Sans',sans-serif" font-weight="bold" font-size="9.0" text-anchor="start" fill="#111">0.10 mM NADP<tspan font-size="6.5" dy="-4.2">+</tspan></text>
<text x="257.90" y="415.30" font-family="'Liberation Sans',sans-serif" font-weight="bold" font-size="11.9" text-anchor="start" fill="#111">(g)</text>
<line x1="314.10" y1="416.60" x2="314.10" y2="568.20" stroke="#333" stroke-width="1.2"/>
<line x1="256.90" y1="568.20" x2="485.70" y2="568.20" stroke="#333" stroke-width="1.4"/>
<line x1="312.10" y1="530.45" x2="314.10" y2="530.45" stroke="#333" stroke-width="1.1"/>
<text x="310.40" y="534.33" font-family="'Liberation Sans',sans-serif" font-weight="bold" font-size="10" text-anchor="end" fill="#111" stroke="#111" stroke-width="0.25">0.5</text>
<line x1="312.10" y1="492.70" x2="314.10" y2="492.70" stroke="#333" stroke-width="1.1"/>
<text x="310.40" y="496.58" font-family="'Liberation Sans',sans-serif" font-weight="bold" font-size="10" text-anchor="end" fill="#111" stroke="#111" stroke-width="0.25">1.0</text>
<line x1="312.10" y1="454.95" x2="314.10" y2="454.95" stroke="#333" stroke-width="1.1"/>
<text x="310.40" y="458.83" font-family="'Liberation Sans',sans-serif" font-weight="bold" font-size="10" text-anchor="end" fill="#111" stroke="#111" stroke-width="0.25">1.5</text>
<line x1="312.10" y1="417.20" x2="314.10" y2="417.20" stroke="#333" stroke-width="1.1"/>
<text x="310.40" y="421.08" font-family="'Liberation Sans',sans-serif" font-weight="bold" font-size="10" text-anchor="end" fill="#111" stroke="#111" stroke-width="0.25">2.0</text>
<line x1="256.90" y1="568.20" x2="256.90" y2="570.40" stroke="#333" stroke-width="1.2"/>
<text x="256.90" y="582.90" font-family="'Liberation Sans',sans-serif" font-weight="bold" font-size="10" text-anchor="middle" fill="#111" stroke="#111" stroke-width="0.25">-40</text>
<line x1="314.10" y1="568.20" x2="314.10" y2="570.40" stroke="#333" stroke-width="1.2"/>
<text x="314.10" y="582.90" font-family="'Liberation Sans',sans-serif" font-weight="bold" font-size="10" text-anchor="middle" fill="#111" stroke="#111" stroke-width="0.25">0</text>
<line x1="371.30" y1="568.20" x2="371.30" y2="570.40" stroke="#333" stroke-width="1.2"/>
<text x="371.30" y="582.90" font-family="'Liberation Sans',sans-serif" font-weight="bold" font-size="10" text-anchor="middle" fill="#111" stroke="#111" stroke-width="0.25">40</text>
<line x1="428.50" y1="568.20" x2="428.50" y2="570.40" stroke="#333" stroke-width="1.2"/>
<text x="428.50" y="582.90" font-family="'Liberation Sans',sans-serif" font-weight="bold" font-size="10" text-anchor="middle" fill="#111" stroke="#111" stroke-width="0.25">80</text>
<line x1="485.70" y1="568.20" x2="485.70" y2="570.40" stroke="#333" stroke-width="1.2"/>
<text x="485.70" y="582.90" font-family="'Liberation Sans',sans-serif" font-weight="bold" font-size="10" text-anchor="middle" fill="#111" stroke="#111" stroke-width="0.25">120</text>
<text x="289.20" y="493.00" font-family="'Liberation Sans',sans-serif" font-weight="bold" font-size="10.6" text-anchor="middle" fill="#111" stroke="#111" stroke-width="0.25" transform="rotate(-90 289.2 493.0)">1 / V (U/mg protein)</text>
<text x="370.70" y="598.40" font-family="'Liberation Sans',sans-serif" font-weight="bold" font-size="10.6" text-anchor="middle" fill="#111" stroke="#111" stroke-width="0.25">1/[NADP+], nM<tspan font-size="6.8" dy="-4">-1</tspan></text>
<line x1="269.00" y1="567.60" x2="457.10" y2="472.00" stroke="#6d4fcc" stroke-width="1.1"/>
<line x1="266.00" y1="567.60" x2="457.10" y2="487.40" stroke="#2e9091" stroke-width="1.1"/>
<line x1="265.00" y1="567.60" x2="457.10" y2="494.00" stroke="#e8523f" stroke-width="1.1"/>
<line x1="264.50" y1="567.60" x2="457.10" y2="500.20" stroke="#f8a448" stroke-width="1.1"/>
<line x1="266.00" y1="567.60" x2="457.10" y2="510.10" stroke="#6a6a6a" stroke-width="1.0"/>
<circle cx="321.25" cy="540.79" r="2.3" fill="#6d4fcc"/>
<circle cx="328.40" cy="538.23" r="2.3" fill="#6d4fcc"/>
<circle cx="342.70" cy="530.45" r="2.3" fill="#6d4fcc"/>
<circle cx="385.60" cy="509.84" r="2.3" fill="#6d4fcc"/>
<line x1="457.10" y1="465.90" x2="457.10" y2="477.22" stroke="#6d4fcc" stroke-width="1.1"/>
<line x1="454.90" y1="465.90" x2="459.30" y2="465.90" stroke="#6d4fcc" stroke-width="1.1"/>
<line x1="454.90" y1="477.22" x2="459.30" y2="477.22" stroke="#6d4fcc" stroke-width="1.1"/>
<circle cx="457.10" cy="471.56" r="2.3" fill="#6d4fcc"/>
<rect x="318.95" y="542.50" width="4.6" height="4.6" fill="#2a8a8c"/>
<rect x="326.10" y="539.10" width="4.6" height="4.6" fill="#2a8a8c"/>
<rect x="340.40" y="533.96" width="4.6" height="4.6" fill="#2a8a8c"/>
<rect x="383.30" y="515.69" width="4.6" height="4.6" fill="#2a8a8c"/>
<line x1="457.10" y1="484.77" x2="457.10" y2="489.30" stroke="#2a8a8c" stroke-width="1.1"/>
<line x1="454.90" y1="484.77" x2="459.30" y2="484.77" stroke="#2a8a8c" stroke-width="1.1"/>
<line x1="454.90" y1="489.30" x2="459.30" y2="489.30" stroke="#2a8a8c" stroke-width="1.1"/>
<rect x="454.80" y="484.74" width="4.6" height="4.6" fill="#2a8a8c"/>
<polygon points="321.25,543.82 318.95,547.96 323.55,547.96" fill="#e8523f"/>
<polygon points="328.40,541.56 326.10,545.70 330.70,545.70" fill="#e8523f"/>
<polygon points="342.70,535.89 340.40,540.03 345.00,540.03" fill="#e8523f"/>
<polygon points="385.60,519.28 383.30,523.42 387.90,523.42" fill="#e8523f"/>
<polygon points="457.10,491.73 454.80,495.87 459.40,495.87" fill="#e8523f"/>
<polygon points="321.25,550.30 318.95,546.16 323.55,546.16" fill="#f8a448"/>
<polygon points="328.40,548.41 326.10,544.27 330.70,544.27" fill="#f8a448"/>
<polygon points="342.70,542.75 340.40,538.61 345.00,538.61" fill="#f8a448"/>
<polygon points="385.60,527.88 383.30,523.74 387.90,523.74" fill="#f8a448"/>
<line x1="457.10" y1="496.85" x2="457.10" y2="502.89" stroke="#f8a448" stroke-width="1.1"/>
<line x1="454.90" y1="496.85" x2="459.30" y2="496.85" stroke="#f8a448" stroke-width="1.1"/>
<line x1="454.90" y1="502.89" x2="459.30" y2="502.89" stroke="#f8a448" stroke-width="1.1"/>
<polygon points="457.10,502.36 454.80,498.22 459.40,498.22" fill="#f8a448"/>
<circle cx="321.25" cy="550.46" r="1.6" fill="#606060"/>
<circle cx="328.40" cy="550.46" r="1.6" fill="#606060"/>
<circle cx="342.70" cy="544.80" r="1.6" fill="#606060"/>
<circle cx="385.60" cy="532.56" r="1.6" fill="#606060"/>
<circle cx="457.10" cy="510.44" r="1.6" fill="#606060"/>
<line x1="323.80" y1="419.50" x2="340.20" y2="419.50" stroke="#6d4fcc" stroke-width="1.2"/>
<circle cx="332.00" cy="419.50" r="1.7" fill="#6d4fcc"/>
<text x="349.70" y="423.40" font-family="'Liberation Sans',sans-serif" font-weight="bold" font-size="9.1" text-anchor="start" fill="#111">0.10 mM G-6-P</text>
<line x1="323.80" y1="434.10" x2="340.20" y2="434.10" stroke="#5aacae" stroke-width="2.4"/>
<circle cx="332.00" cy="434.10" r="2.7" fill="#237f82"/>
<text x="349.70" y="438.00" font-family="'Liberation Sans',sans-serif" font-weight="bold" font-size="9.1" text-anchor="start" fill="#111">0.15 mM G-6-P</text>
<line x1="323.80" y1="448.20" x2="340.20" y2="448.20" stroke="#e8523f" stroke-width="1.3"/>
<circle cx="332.00" cy="448.20" r="1.7" fill="#e8523f"/>
<text x="349.70" y="452.10" font-family="'Liberation Sans',sans-serif" font-weight="bold" font-size="9.1" text-anchor="start" fill="#111">0.25 mM G-6-P</text>
<line x1="323.80" y1="462.40" x2="340.20" y2="462.40" stroke="#f8a448" stroke-width="1.3"/>
<circle cx="332.00" cy="462.40" r="1.7" fill="#f8a448"/>
<text x="349.70" y="466.30" font-family="'Liberation Sans',sans-serif" font-weight="bold" font-size="9.1" text-anchor="start" fill="#111">0.30 mM G-6-P</text>
<line x1="323.80" y1="476.90" x2="340.20" y2="476.90" stroke="#b8b8b8" stroke-width="2.4"/>
<circle cx="332.00" cy="476.90" r="1.6" fill="#666"/>
<text x="349.70" y="480.80" font-family="'Liberation Sans',sans-serif" font-weight="bold" font-size="9.1" text-anchor="start" fill="#111">0.50 mM G-6-P</text>
<text x="499.40" y="415.00" font-family="'Liberation Sans',sans-serif" font-weight="bold" font-size="11.9" text-anchor="start" fill="#111">(h)</text>
<line x1="540.00" y1="416.20" x2="540.00" y2="568.80" stroke="#333" stroke-width="1.2"/>
<line x1="540.00" y1="568.80" x2="768.36" y2="568.80" stroke="#333" stroke-width="1.4"/>
<line x1="538.00" y1="568.80" x2="540.00" y2="568.80" stroke="#333" stroke-width="1.1"/>
<text x="536.60" y="572.68" font-family="'Liberation Sans',sans-serif" font-weight="bold" font-size="10" text-anchor="end" fill="#111" stroke="#111" stroke-width="0.25">0.2</text>
<line x1="538.00" y1="518.10" x2="540.00" y2="518.10" stroke="#333" stroke-width="1.1"/>
<text x="536.60" y="521.98" font-family="'Liberation Sans',sans-serif" font-weight="bold" font-size="10" text-anchor="end" fill="#111" stroke="#111" stroke-width="0.25">0.4</text>
<line x1="538.00" y1="467.40" x2="540.00" y2="467.40" stroke="#333" stroke-width="1.1"/>
<text x="536.60" y="471.28" font-family="'Liberation Sans',sans-serif" font-weight="bold" font-size="10" text-anchor="end" fill="#111" stroke="#111" stroke-width="0.25">0.6</text>
<line x1="538.00" y1="416.70" x2="540.00" y2="416.70" stroke="#333" stroke-width="1.1"/>
<text x="536.60" y="420.58" font-family="'Liberation Sans',sans-serif" font-weight="bold" font-size="10" text-anchor="end" fill="#111" stroke="#111" stroke-width="0.25">0.8</text>
<line x1="540.00" y1="568.80" x2="540.00" y2="571.00" stroke="#333" stroke-width="1.2"/>
<text x="540.00" y="582.90" font-family="'Liberation Sans',sans-serif" font-weight="bold" font-size="10" text-anchor="middle" fill="#111" stroke="#111" stroke-width="0.25">0</text>
<line x1="597.09" y1="568.80" x2="597.09" y2="571.00" stroke="#333" stroke-width="1.2"/>
<text x="597.09" y="582.90" font-family="'Liberation Sans',sans-serif" font-weight="bold" font-size="10" text-anchor="middle" fill="#111" stroke="#111" stroke-width="0.25">3</text>
<line x1="654.18" y1="568.80" x2="654.18" y2="571.00" stroke="#333" stroke-width="1.2"/>
<text x="654.18" y="582.90" font-family="'Liberation Sans',sans-serif" font-weight="bold" font-size="10" text-anchor="middle" fill="#111" stroke="#111" stroke-width="0.25">6</text>
<line x1="711.27" y1="568.80" x2="711.27" y2="571.00" stroke="#333" stroke-width="1.2"/>
<text x="711.27" y="582.90" font-family="'Liberation Sans',sans-serif" font-weight="bold" font-size="10" text-anchor="middle" fill="#111" stroke="#111" stroke-width="0.25">9</text>
<line x1="768.36" y1="568.80" x2="768.36" y2="571.00" stroke="#333" stroke-width="1.2"/>
<text x="768.36" y="582.90" font-family="'Liberation Sans',sans-serif" font-weight="bold" font-size="10" text-anchor="middle" fill="#111" stroke="#111" stroke-width="0.25">12</text>
<text x="514.50" y="494.00" font-family="'Liberation Sans',sans-serif" font-weight="bold" font-size="10.6" text-anchor="middle" fill="#111" stroke="#111" stroke-width="0.25" transform="rotate(-90 514.5 494.0)">1 / V (U/mg protein)</text>
<text x="653.70" y="598.40" font-family="'Liberation Sans',sans-serif" font-weight="bold" font-size="10.6" text-anchor="middle" fill="#111" stroke="#111" stroke-width="0.25">1/[G-6-P], nM<tspan font-size="6.8" dy="-4">-1</tspan></text>
<line x1="540.00" y1="554.40" x2="730.30" y2="477.30" stroke="#f6a655" stroke-width="1.05"/>
<line x1="540.00" y1="554.40" x2="730.30" y2="471.20" stroke="#1f8a88" stroke-width="1.05"/>
<line x1="540.00" y1="554.40" x2="730.30" y2="457.00" stroke="#e8604c" stroke-width="1.05"/>
<line x1="540.00" y1="554.40" x2="730.30" y2="436.20" stroke="#8462d8" stroke-width="1.05"/>
<line x1="578.06" y1="542.00" x2="578.06" y2="549.00" stroke="#f6a655" stroke-width="1"/>
<line x1="576.06" y1="542.00" x2="580.06" y2="542.00" stroke="#f6a655" stroke-width="1"/>
<line x1="576.06" y1="549.00" x2="580.06" y2="549.00" stroke="#f6a655" stroke-width="1"/>
<polygon points="578.06,547.77 575.96,543.99 580.16,543.99" fill="#f6a655"/>
<polygon points="603.37,528.27 601.27,524.49 605.47,524.49" fill="#f6a655"/>
<polygon points="616.12,524.27 614.02,520.49 618.22,520.49" fill="#f6a655"/>
<polygon points="666.93,507.27 664.83,503.49 669.03,503.49" fill="#f6a655"/>
<line x1="730.30" y1="474.00" x2="730.30" y2="482.00" stroke="#f6a655" stroke-width="1"/>
<line x1="728.30" y1="474.00" x2="732.30" y2="474.00" stroke="#f6a655" stroke-width="1"/>
<line x1="728.30" y1="482.00" x2="732.30" y2="482.00" stroke="#f6a655" stroke-width="1"/>
<polygon points="730.30,480.37 728.20,476.59 732.40,476.59" fill="#f6a655"/>
<line x1="578.06" y1="536.50" x2="578.06" y2="544.60" stroke="#1f8a88" stroke-width="1.1"/>
<line x1="576.06" y1="536.50" x2="580.06" y2="536.50" stroke="#1f8a88" stroke-width="1.1"/>
<line x1="576.06" y1="544.60" x2="580.06" y2="544.60" stroke="#1f8a88" stroke-width="1.1"/>
<circle cx="578.06" cy="540.50" r="2.2" fill="#1f8a88"/>
<line x1="603.37" y1="518.50" x2="603.37" y2="528.90" stroke="#1f8a88" stroke-width="1.1"/>
<line x1="601.37" y1="518.50" x2="605.37" y2="518.50" stroke="#1f8a88" stroke-width="1.1"/>
<line x1="601.37" y1="528.90" x2="605.37" y2="528.90" stroke="#1f8a88" stroke-width="1.1"/>
<circle cx="603.37" cy="523.70" r="2.2" fill="#1f8a88"/>
<line x1="616.12" y1="509.20" x2="616.12" y2="526.60" stroke="#1f8a88" stroke-width="1.1"/>
<line x1="614.12" y1="509.20" x2="618.12" y2="509.20" stroke="#1f8a88" stroke-width="1.1"/>
<line x1="614.12" y1="526.60" x2="618.12" y2="526.60" stroke="#1f8a88" stroke-width="1.1"/>
<circle cx="616.12" cy="518.50" r="2.2" fill="#1f8a88"/>
<line x1="666.93" y1="492.60" x2="666.93" y2="513.40" stroke="#1f8a88" stroke-width="1.1"/>
<line x1="664.93" y1="492.60" x2="668.93" y2="492.60" stroke="#1f8a88" stroke-width="1.1"/>
<line x1="664.93" y1="513.40" x2="668.93" y2="513.40" stroke="#1f8a88" stroke-width="1.1"/>
<circle cx="666.93" cy="503.50" r="2.2" fill="#1f8a88"/>
<line x1="730.30" y1="463.30" x2="730.30" y2="479.60" stroke="#1f8a88" stroke-width="1.1"/>
<line x1="728.30" y1="463.30" x2="732.30" y2="463.30" stroke="#1f8a88" stroke-width="1.1"/>
<line x1="728.30" y1="479.60" x2="732.30" y2="479.60" stroke="#1f8a88" stroke-width="1.1"/>
<circle cx="730.30" cy="469.70" r="2.2" fill="#1f8a88"/>
<rect x="576.06" y="528.50" width="4" height="5" fill="#e8604c"/>
<rect x="601.37" y="514.20" width="4" height="5" fill="#e8604c"/>
<rect x="614.12" y="511.90" width="4" height="5" fill="#e8604c"/>
<rect x="664.93" y="494.70" width="4" height="5" fill="#e8604c"/>
<rect x="728.30" y="450.40" width="4" height="5" fill="#e8604c"/>
<line x1="578.06" y1="518.50" x2="578.06" y2="535.30" stroke="#8462d8" stroke-width="1"/>
<line x1="576.06" y1="518.50" x2="580.06" y2="518.50" stroke="#8462d8" stroke-width="1"/>
<line x1="576.06" y1="535.30" x2="580.06" y2="535.30" stroke="#8462d8" stroke-width="1"/>
<polygon points="578.06,524.22 575.86,528.18 580.26,528.18" fill="#8462d8"/>
<polygon points="603.37,511.42 601.17,515.38 605.57,515.38" fill="#8462d8"/>
<polygon points="616.12,505.02 613.92,508.98 618.32,508.98" fill="#8462d8"/>
<line x1="666.93" y1="470.00" x2="666.93" y2="500.00" stroke="#8462d8" stroke-width="1"/>
<line x1="664.93" y1="470.00" x2="668.93" y2="470.00" stroke="#8462d8" stroke-width="1"/>
<line x1="664.93" y1="500.00" x2="668.93" y2="500.00" stroke="#8462d8" stroke-width="1"/>
<polygon points="666.93,480.22 664.73,484.18 669.13,484.18" fill="#8462d8"/>
<polygon points="730.30,429.82 728.10,433.78 732.50,433.78" fill="#8462d8"/>
<line x1="549.40" y1="426.10" x2="565.30" y2="426.10" stroke="#1f8a88" stroke-width="1.1"/>
<circle cx="557.40" cy="426.10" r="2.2" fill="#1f8a88"/>
<text x="574.70" y="429.50" font-family="'Liberation Sans',sans-serif" font-weight="bold" font-size="9.2" text-anchor="start" fill="#111">0.010 mM NADPH</text>
<line x1="549.40" y1="439.40" x2="565.30" y2="439.40" stroke="#e8604c" stroke-width="1.1"/>
<rect x="555.50" y="437.50" width="3.8" height="3.8" fill="#e8604c"/>
<text x="574.70" y="442.80" font-family="'Liberation Sans',sans-serif" font-weight="bold" font-size="9.2" text-anchor="start" fill="#111">0.025 mM NADPH</text>
<line x1="549.40" y1="452.70" x2="565.30" y2="452.70" stroke="#8462d8" stroke-width="1.1"/>
<polygon points="557.40,450.32 555.20,454.28 559.60,454.28" fill="#8462d8"/>
<text x="574.70" y="456.10" font-family="'Liberation Sans',sans-serif" font-weight="bold" font-size="9.2" text-anchor="start" fill="#111">0.050 mM NADPH</text>
<line x1="549.40" y1="466.70" x2="565.30" y2="466.70" stroke="#f6a655" stroke-width="1.1"/>
<polygon points="557.40,469.08 555.20,465.12 559.60,465.12" fill="#f6a655"/>
<text x="574.70" y="470.10" font-family="'Liberation Sans',sans-serif" font-weight="bold" font-size="9.2" text-anchor="start" fill="#111">Control</text>
</svg>
</body></html>
